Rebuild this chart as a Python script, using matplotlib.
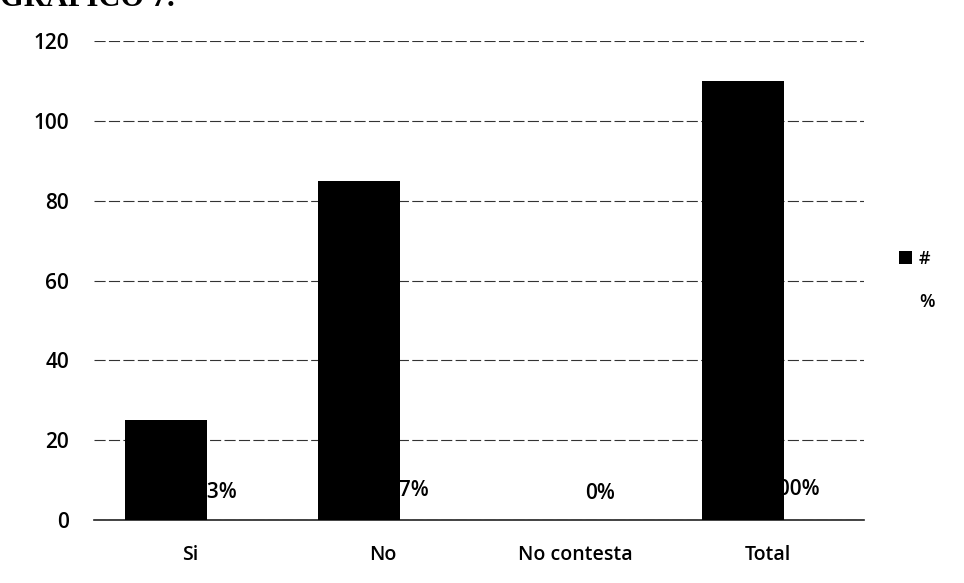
import numpy as np
import matplotlib.pyplot as plt

# valeurs
categories = ["Si", "No", "No contesta", "Total"]
cantidad = [25, 85, 0, 110]          # serie "#"
porcentaje = [0.23, 0.77, 0.0, 1.0]  # serie "%"
etiquetas_pct = ["23%", "77%", "0%", "100%"]
yticks = [0, 20, 40, 60, 80, 100, 120]

plt.rcParams["font.family"] = ["Open Sans", "DejaVu Sans"]

fig = plt.figure(figsize=(9.64, 5.83), dpi=100)
ax = fig.add_axes([0.0975, 0.108, 0.7985, 0.8217])

x = np.arange(len(categories))
w = 0.426
dx = 0.125

# serie % : barres sans remplissage + etiquettes (sous les barres noires)
ax.bar(x + dx, porcentaje, width=w, color="none", zorder=2, label="%")
for xi, p, txt in zip(x + dx, porcentaje, etiquetas_pct):
    ax.annotate(txt, (xi, p), xytext=(1, 19), textcoords="offset points",
                ha="center", va="center", fontsize=15, fontweight="semibold", zorder=2)

# serie # : barres noires
ax.bar(x - dx, cantidad, width=w, color="black", zorder=3, label="#")

ax.set_xlim(-0.5, len(categories) - 0.5)
ax.set_ylim(0, 120)
ax.set_yticks(yticks)
ax.set_xticks(x)
ax.set_xticklabels(categories)
for lab in ax.get_xticklabels() + ax.get_yticklabels():
    lab.set_fontweight("semibold")
ax.tick_params(axis="y", length=0, pad=18, labelsize=15)
ax.tick_params(axis="x", length=0, pad=18, labelsize=14)
ax.yaxis.grid(True, color="#333333", linewidth=0.8, linestyle=(0, (10, 3)), zorder=1)
ax.axhline(0, color="#222222", linewidth=1.2, clip_on=False, zorder=1)
ax.set_axisbelow(True)
for s in ax.spines.values():
    s.set_visible(False)

# legende a droite
handles, labels = ax.get_legend_handles_labels()
ax.legend(handles[::-1], labels[::-1], loc="center left", bbox_to_anchor=(1.025, 0.5),
          frameon=False, handlelength=0.7, handleheight=0.7,
          handletextpad=0.4, labelspacing=1.4,
          prop={"weight": "semibold", "size": 13})

# titre coupe en haut de la page scannee
fig.text(0.0, 1 - 6 / 583, "GRAFICO 7.", family="Liberation Serif", fontsize=22,
         fontweight="bold", ha="left", va="baseline")

fig.savefig("out.png", dpi=100)
